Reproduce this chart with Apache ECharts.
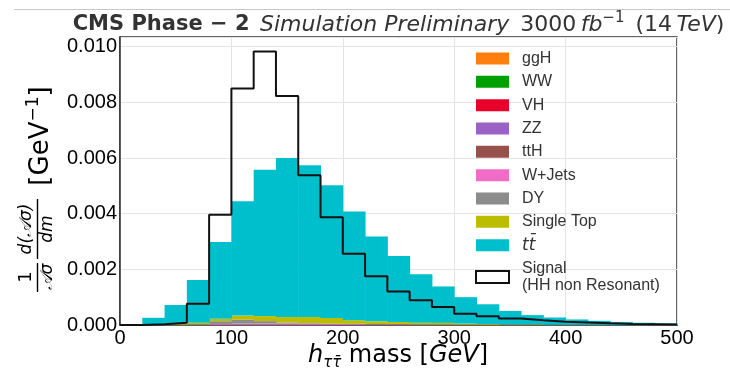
<!DOCTYPE html>
<html><head><meta charset="utf-8">
<script src="https://cdn.jsdelivr.net/npm/echarts@6/dist/echarts.min.js"></script>
<style>html,body{margin:0;padding:0;background:#fff}#c{width:730px;height:374px}</style>
</head><body><div id="c"></div>
<script>
// bin edges of the h_tautau mass histogram (GeV)
const binEdges = [0,20,40,60,80,100,120,140,160,180,200,220,240,260,280,300,320,340,360,380,400,420,440,460,480,500];
const xTicks = [0,100,200,300,400,500];
const yTicks = [0,0.002,0.004,0.006,0.008,0.010];

// background components (normalised, stacked bottom -> top)
const ggH      = [0,0,0,0,0.000002,0.000002,0.000002,0.000002,0.000001,0.000001,0.000001,0,0,0,0,0,0,0,0,0,0,0,0,0,0];
const WW       = [0,0,0,0,0.000001,0.000002,0.000002,0.000002,0.000002,0.000001,0.000001,0.000001,0,0,0,0,0,0,0,0,0,0,0,0,0];
const VH       = [0,0,0,0,0.000001,0.000001,0.000001,0.000001,0.000001,0.000001,0,0,0,0,0,0,0,0,0,0,0,0,0,0,0];
const ZZ       = [0,0,0,0,0.000001,0.000002,0.000002,0.000001,0.000001,0.000001,0,0,0,0,0,0,0,0,0,0,0,0,0,0,0];
const ttH      = [0,0,0,0,0.000002,0.000003,0.000003,0.000003,0.000002,0.000002,0.000001,0.000001,0,0,0,0,0,0,0,0,0,0,0,0,0];
const WJets    = [0,0,0.000005,0.00001,0.00003,0.00004,0.00004,0.00004,0.00004,0.00003,0.00003,0.00002,0.00002,0.00001,0.00001,0.00001,0.000005,0.000005,0.000005,0,0,0,0,0,0];
const DY       = [0,0,0.000005,0.00001,0.0001,0.00014,0.00009,0.00004,0.00002,0.00001,0.00001,0.00001,0.00001,0.000005,0.000005,0,0,0,0,0,0,0,0,0,0];
const singleTop= [0,0.00001,0.00004,0.00006,0.00009,0.00015,0.00018,0.0002,0.00022,0.00021,0.00013,0.0001,0.00008,0.00007,0.00006,0.00004,0.00003,0.00002,0.00002,0.00001,0.00001,0.00001,0,0,0];
const ttbar    = [0.00003,0.00025,0.00067,0.00154,0.00276,0.00411,0.00526,0.00571,0.00545,0.00477,0.00391,0.00305,0.00237,0.00174,0.00131,0.00095,0.00071,0.00048,0.00033,0.00026,0.00019,0.00014,0.00011,0.00008,0.00006];
// signal (HH non resonant), drawn as a step outline
const signal   = [0,0.00003,0.00008,0.00076,0.00396,0.0085,0.00983,0.00823,0.00538,0.00387,0.00256,0.00175,0.0012,0.00089,0.00065,0.0004,0.00031,0.00023,0.00017,0.00012,0.00009,0.00006,0.00004,0.00003,0.00002];

const bgNames  = ['ggH','WW','VH','ZZ','ttH','W+Jets','DY','Single Top','tt\u0304'];
const bgValues = [ggH, WW, VH, ZZ, ttH, WJets, DY, singleTop, ttbar];
const bgColors = ['#ff7f0e','#00a000','#e8002a','#9a62c4','#98504a','#f06cc6','#8c8c8c','#bcbc00','#00bfcc'];
const signalName = 'Signal';

const chart = echarts.init(document.getElementById('c'), null, {renderer:'canvas'});

const base = new Array(binEdges.length-1).fill(0);
const series = bgNames.map((name, k) => {
  const data = [];
  for (let i = 0; i < binEdges.length-1; i++) {
    const lo = base[i], hi = base[i] + bgValues[k][i];
    data.push([binEdges[i], binEdges[i+1], lo, hi]);
    base[i] = hi;
  }
  const color = bgColors[k];
  return {
    name, type:'custom', data,
    itemStyle:{color},
    encode:{x:[0,1], y:[2,3]},
    silent:true,
    renderItem:(params, api) => {
      const p0 = api.coord([api.value(0), api.value(3)]);
      const p1 = api.coord([api.value(1), api.value(2)]);
      const h = p1[1]-p0[1];
      if (!(h > 0.05)) return null;
      return {type:'rect', shape:{x:p0[0], y:p0[1], width:p1[0]-p0[0]+0.5, height:h}, style:{fill:color}};
    }
  };
});

const sigData = [[binEdges[0], 0]];
for (let i = 0; i < signal.length; i++) sigData.push([binEdges[i], signal[i]]);
sigData.push([binEdges[binEdges.length-1], signal[signal.length-1]]);
sigData.push([binEdges[binEdges.length-1], 0]);
series.push({
  name: signalName, type:'line', step:'end', data:sigData, symbol:'none', silent:true,
  lineStyle:{color:'#111', width:2}, z:5
});

const legendData = bgNames.map(n => ({name:n, icon:'rect'}));
legendData.push({name:signalName, icon:'rect', itemStyle:{color:'#fff', borderColor:'#111', borderWidth:2}});

const labelFont = 'Liberation Sans';
const mathFont = 'DejaVu Sans';

chart.setOption({
  animation:false,
  backgroundColor:'#fff',
  grid:{left:120, right:53, top:37, bottom:49, show:true, borderColor:'#333', borderWidth:1.5, backgroundColor:'transparent'},
  xAxis:{type:'value', min:xTicks[0], max:xTicks[xTicks.length-1], interval:100,
    axisLine:{show:true, onZero:false, lineStyle:{color:'#333', width:1.5}},
    axisTick:{show:false},
    splitLine:{show:true, lineStyle:{color:'#e4e4e4', width:1}},
    axisLabel:{fontFamily:labelFont, fontSize:20, color:'#000', margin:3}
  },
  yAxis:{type:'value', min:yTicks[0], max:0.01035, interval:0.002,
    axisLine:{show:true, lineStyle:{color:'#333', width:1.5}},
    axisTick:{show:false},
    splitLine:{show:true, lineStyle:{color:'#e4e4e4', width:1}},
    axisLabel:{fontFamily:labelFont, fontSize:20, color:'#000', margin:3, showMaxLabel:false,
      formatter:v => v.toFixed(3)}
  },
  legend:{
    orient:'vertical', left:475, top:50, padding:0, itemWidth:33, itemHeight:12, itemGap:6.33,
    selectedMode:false, data:legendData,
    formatter:name => name === signalName ? 'Signal\n(HH non Resonant)' : (name === 'tt\u0304' ? '{it|tt\u0304}' : name),
    textStyle:{fontFamily:labelFont, fontSize:16, color:'#333', lineHeight:17, padding:[0,0,0,8],
      rich:{it:{fontFamily:mathFont, fontStyle:'italic', fontSize:17, color:'#333', lineHeight:17}}}
  },
  graphic:[
    {type:'line', shape:{x1:14, y1:9.5, x2:730, y2:9.5}, style:{stroke:'#c8c8c8', lineWidth:1}},
    {type:'text', x:398.5, y:25, style:{
      text:'{b|CMS Phase \u2212 2\u2002}{i|Simulation Preliminary\u2002}{n|3000\u2009}{i|fb}{sup|\u22121}{n|\u2002(14\u2009}{i|TeV}{n|)}',
      align:'center', verticalAlign:'middle',
      rich:{
        b:{fontFamily:mathFont, fontWeight:'bold', fontSize:21, fill:'#333', lineHeight:28},
        i:{fontFamily:mathFont, fontStyle:'italic', fontSize:22, fill:'#333', lineHeight:28},
        n:{fontFamily:mathFont, fontSize:22, fill:'#333', lineHeight:28},
        sup:{fontFamily:mathFont, fontSize:15, fill:'#333', lineHeight:15, verticalAlign:'top'}
      }}},
    {type:'text', x:398, y:356, style:{
      text:'{h|h}{sub|\u03c4\u03c4\u0304}{n| mass [}{i|GeV}{n|]}',
      align:'center', verticalAlign:'middle',
      rich:{
        h:{fontFamily:mathFont, fontStyle:'italic', fontSize:24, fill:'#000', lineHeight:30},
        sub:{fontFamily:mathFont, fontStyle:'italic', fontSize:15, fill:'#000', lineHeight:15, verticalAlign:'bottom'},
        n:{fontFamily:mathFont, fontSize:24, fill:'#000', lineHeight:30},
        i:{fontFamily:mathFont, fontStyle:'italic', fontSize:24, fill:'#000', lineHeight:30}
      }}},
    // y-axis label: 1/(A sigma) d(A sigma)/dm [GeV^-1], drawn rotated
    {type:'text', x:26, y:277, rotation:Math.PI/2, style:{text:'1', font:'18px "DejaVu Sans"', fill:'#000', align:'center', verticalAlign:'middle'}},
    {type:'line', shape:{x1:37.5, y1:263, x2:37.5, y2:292}, style:{stroke:'#000', lineWidth:1.4}},
    {type:'text', x:48, y:277, rotation:Math.PI/2, style:{text:'\ud835\udc9c\u03c3', font:'italic 17px "DejaVu Sans"', fill:'#000', align:'center', verticalAlign:'middle'}},
    {type:'text', x:27, y:229, rotation:Math.PI/2, style:{text:'d(\ud835\udc9c\u03c3)', font:'italic 17px "DejaVu Sans"', fill:'#000', align:'center', verticalAlign:'middle'}},
    {type:'line', shape:{x1:37.5, y1:199, x2:37.5, y2:259}, style:{stroke:'#000', lineWidth:1.4}},
    {type:'text', x:48, y:229, rotation:Math.PI/2, style:{text:'dm', font:'italic 17px "DejaVu Sans"', fill:'#000', align:'center', verticalAlign:'middle'}},
    {type:'text', x:41, y:136, rotation:Math.PI/2, style:{
      text:'{n|[GeV}{sup|\u22121}{n|]}', align:'center', verticalAlign:'middle',
      rich:{n:{fontFamily:mathFont, fontSize:26, fill:'#000', lineHeight:32},
            sup:{fontFamily:mathFont, fontSize:17, fill:'#000', lineHeight:17, verticalAlign:'top'}}}}
  ],
  series
});
</script></body></html>
